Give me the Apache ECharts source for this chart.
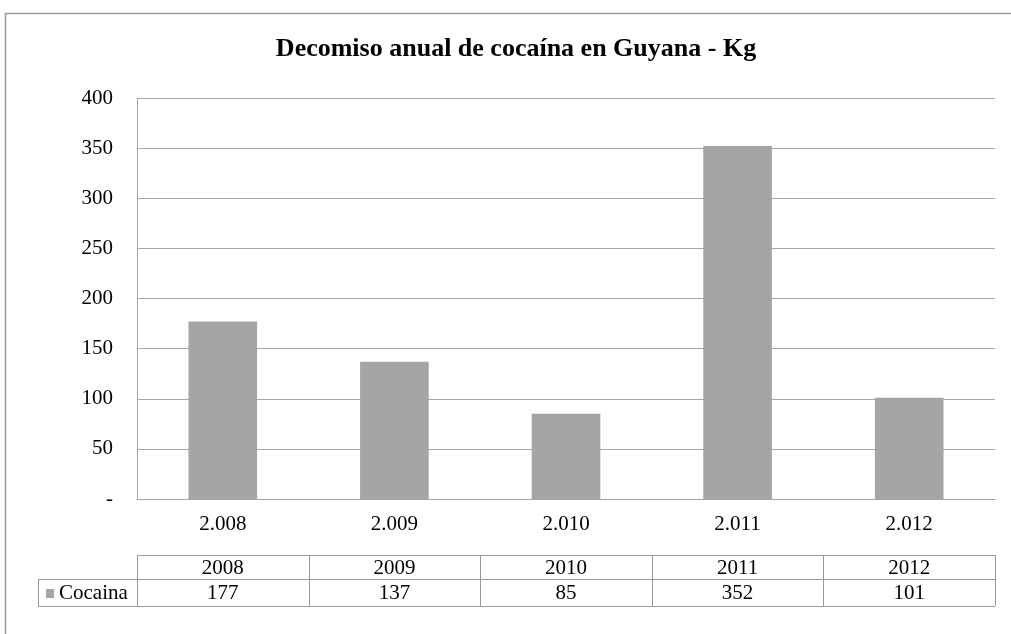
<!DOCTYPE html>
<html>
<head>
<meta charset="utf-8">
<script src="https://cdn.jsdelivr.net/npm/echarts@6/dist/echarts.min.js"></script>
<style>
  html, body { margin: 0; padding: 0; background: #fff; }
  #chart { width: 1011px; height: 634px; }
</style>
</head>
<body>
<div id="chart"></div>
<script>
// Annual cocaine seizures in Guyana (kg)
const titleText = 'Decomiso anual de cocaína en Guyana - Kg';
const axisLabels = ['2.008', '2.009', '2.010', '2.011', '2.012'];
const tableYears = ['2008', '2009', '2010', '2011', '2012'];
const seriesName = 'Cocaina';
const cocaina = [177, 137, 85, 352, 101];
const yTicks = { min: 0, max: 400, interval: 50 };

const FONT = 'Liberation Serif';
const GRID_COLOR = '#a6a6a6';
const BAR_COLOR = '#a5a5a5';
const FRAME_COLOR = '#9a9a9a';

const chart = echarts.init(document.getElementById('chart'), null, { renderer: 'canvas' });

const option = {
  animation: false,
  backgroundColor: '#ffffff',
  grid: { left: 137, right: 16, top: 98, bottom: 135, containLabel: false },
  xAxis: {
    type: 'category',
    data: axisLabels,
    axisLine: { show: true, lineStyle: { color: GRID_COLOR, width: 1 } },
    axisTick: { show: false },
    axisLabel: { fontFamily: FONT, fontSize: 21, color: '#000', margin: 15 }
  },
  yAxis: {
    type: 'value',
    min: yTicks.min,
    max: yTicks.max,
    interval: yTicks.interval,
    axisLine: { show: true, lineStyle: { color: GRID_COLOR, width: 1 } },
    axisTick: { show: false },
    splitLine: { show: true, lineStyle: { color: GRID_COLOR, width: 1 } },
    axisLabel: {
      fontFamily: FONT, fontSize: 21, color: '#000', margin: 24,
      formatter: v => (v === 0 ? '-' : String(v))
    }
  },
  series: [{
    name: seriesName,
    type: 'bar',
    data: cocaina,
    barWidth: '40%',
    itemStyle: { color: BAR_COLOR }
  }]
};

chart.setOption(option);

// Frame, title and the data table under the axis, aligned with the category bands
function buildExtras() {
  const centers = tableYears.map((_, i) => chart.convertToPixel({ xAxisIndex: 0 }, i));
  const band = centers.length > 1 ? centers[1] - centers[0] : 100;
  const left = centers[0] - band / 2;
  const right = centers[centers.length - 1] + band / 2;
  const rowTop = 555, rowMid = 579, rowBot = 606;
  const legendLeft = 38;
  const lineStyle = { stroke: '#9a9a9a', lineWidth: 1 };
  const txt = { fontFamily: FONT, fontSize: 21, fill: '#000', verticalAlign: 'middle' };
  const els = [];

  // outer chart frame (continues past the right and bottom edges)
  els.push({ type: 'rect', shape: { x: 5.5, y: 13.5, width: 1100, height: 700 },
    style: { fill: 'none', stroke: FRAME_COLOR, lineWidth: 1.5 }, silent: true });

  // chart title
  els.push({ type: 'text', x: 516, y: 49,
    style: { text: titleText, fontFamily: FONT, fontSize: 26, fontWeight: 'bold', fill: '#000',
      align: 'center', verticalAlign: 'middle' } });

  // horizontal rules
  els.push({ type: 'line', shape: { x1: left, y1: rowTop + 0.5, x2: right, y2: rowTop + 0.5 }, style: lineStyle });
  els.push({ type: 'line', shape: { x1: legendLeft, y1: rowMid + 0.5, x2: right, y2: rowMid + 0.5 }, style: lineStyle });
  els.push({ type: 'line', shape: { x1: legendLeft, y1: rowBot + 0.5, x2: right, y2: rowBot + 0.5 }, style: lineStyle });
  // vertical rules
  els.push({ type: 'line', shape: { x1: legendLeft + 0.5, y1: rowMid, x2: legendLeft + 0.5, y2: rowBot }, style: lineStyle });
  for (let i = 0; i <= tableYears.length; i++) {
    const x = Math.round(left + i * band) + 0.5;
    els.push({ type: 'line', shape: { x1: x, y1: rowTop, x2: x, y2: rowBot }, style: lineStyle });
  }
  // header and value cells
  tableYears.forEach((yr, i) => {
    els.push({ type: 'text', x: centers[i], y: (rowTop + rowMid) / 2 + 1,
      style: Object.assign({ text: yr, align: 'center' }, txt) });
    els.push({ type: 'text', x: centers[i], y: (rowMid + rowBot) / 2 + 1,
      style: Object.assign({ text: String(cocaina[i]), align: 'center' }, txt) });
  });
  // legend key
  els.push({ type: 'rect', shape: { x: 46, y: 589, width: 8, height: 9 }, style: { fill: BAR_COLOR } });
  els.push({ type: 'text', x: 59, y: (rowMid + rowBot) / 2 + 1,
    style: Object.assign({ text: seriesName, align: 'left' }, txt) });

  chart.setOption({ graphic: { elements: els } });
}
buildExtras();
</script>
</body>
</html>
